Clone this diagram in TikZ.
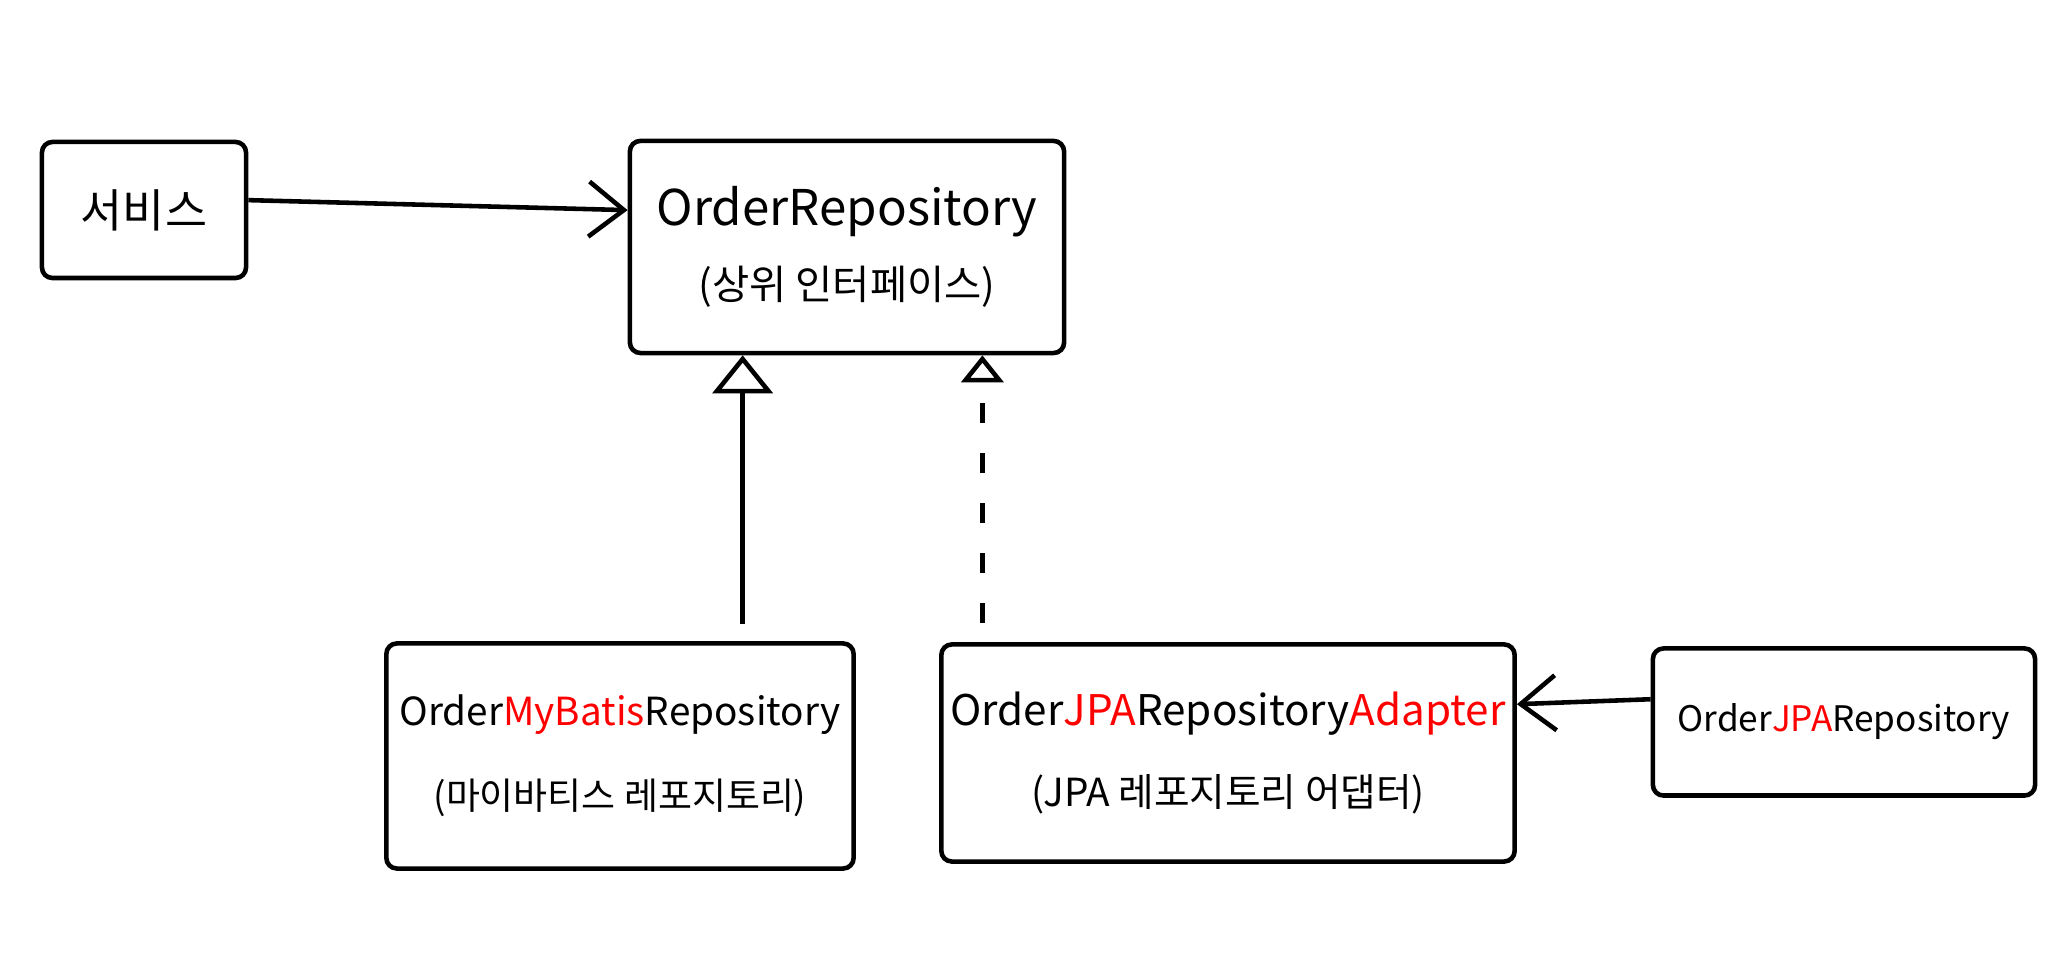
\documentclass[tikz,border=0pt]{standalone}
\usepackage{fontspec}
\setmainfont{Noto Sans CJK KR}
\usetikzlibrary{arrows.meta,calc}
\tikzset{
  box/.style={draw, line width=1.3pt, rounded corners=3pt, inner sep=0pt, align=center},
  conn/.style={line width=1.3pt},
  barb/.style={conn, -{Straight Barb[length=0.35cm,width=0.55cm]}},
  realize/.style={conn, -{Triangle[open,length=0.38cm,width=0.6cm,line width=1.3pt]}},
  realizedash/.style={conn, dash pattern=on 0.2cm off 0.3cm, -{Triangle[open,length=0.27cm,width=0.42cm,line width=1.3pt]}},
}
\begin{document}
\begin{tikzpicture}[x=0.01cm,y=-0.01cm]
\useasboundingbox (0,0) rectangle (2065,974);
\node[box, minimum width=2.04cm, minimum height=1.36cm, font=\fontsize{13}{16}\selectfont] (svc) at (144,210) {서비스};
\node[box, minimum width=4.34cm, minimum height=2.12cm, font=\fontsize{11.5}{21}\selectfont] (repo) at (847,247)
  {{\fontsize{14}{21}\selectfont OrderRepository}\\[0pt](상위 인터페이스)};
\node[box, minimum width=4.67cm, minimum height=2.25cm, font=\fontsize{10.5}{22}\selectfont] (mybatis) at (620,756)
  {{\fontsize{11}{22}\selectfont Order\textcolor{red}{MyBatis}Repository}\\[2pt](마이바티스 레포지토리)};
\node[box, minimum width=5.73cm, minimum height=2.17cm, font=\fontsize{11}{22}\selectfont] (adapter) at (1228,753)
  {{\fontsize{12}{22}\selectfont Order\textcolor{red}{JPA}Repository\textcolor{red}{Adapter}}\\[1pt](JPA 레포지토리 어댑터)};
\node[box, minimum width=3.82cm, minimum height=1.47cm, font=\fontsize{10}{12}\selectfont] (jparepo) at (1844,722)
  {Order\textcolor{red}{JPA}Repository};
% connectors
\draw[barb] ($(svc.north east)!0.43!(svc.south east)$) -- ($(repo.north west)!0.33!(repo.south west)$);
\coordinate (m1) at ($(mybatis.north west)!0.76!(mybatis.north east)$);
\draw[realize] ([yshift=0.17cm]m1) -- (m1 |- repo.south);
\coordinate (a1) at ($(adapter.north west)!0.075!(adapter.north east)$);
\draw[realizedash] ([yshift=0.19cm]a1) -- (a1 |- repo.south);
\draw[barb] ($(jparepo.north west)!0.35!(jparepo.south west)$) -- ($(adapter.north east)!0.28!(adapter.south east)$);
\end{tikzpicture}
\end{document}
